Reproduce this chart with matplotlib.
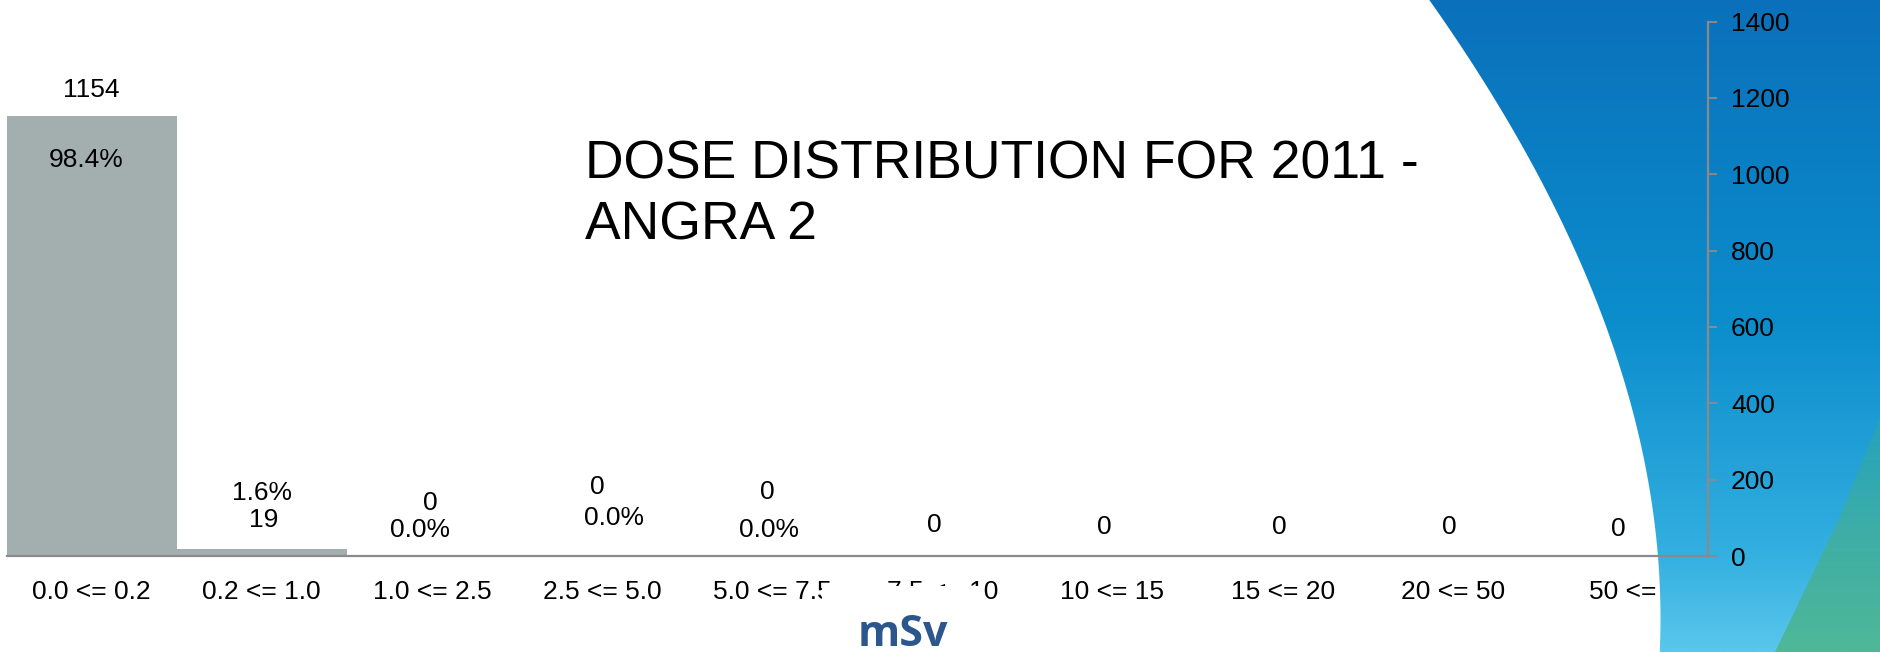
import numpy as np
import matplotlib
matplotlib.use('Agg')
import matplotlib.pyplot as plt
from matplotlib.patches import Polygon, Rectangle
from matplotlib.colors import LinearSegmentedColormap

plt.rcParams['font.family'] = ['Liberation Sans', 'DejaVu Sans']

# dose classes (mSv) and number of workers in each
categories = ['0.0 <= 0.2', '0.2 <= 1.0', '1.0 <= 2.5', '2.5 <= 5.0', '5.0 <= 7.5',
              '7.5 <= 10', '10 <= 15', '15 <= 20', '20 <= 50', '50 <=']
workers = [1154, 19, 0, 0, 0, 0, 0, 0, 0, 0]
n_pct = 5   # only the first five classes carry a percentage label
title = 'DOSE DISTRIBUTION FOR 2011 -\nANGRA 2'

# label placement, offsets from bar centre / bar top (data units)
count_dx = [0.0, 0.01, -0.01, -0.03, -0.03, -0.05, -0.05, -0.02, -0.02, -0.03]
count_dy = [67, 75, 139, 181, 168, 80, 76, 76, 76, 70]
pct_dx = [-0.03, 0.0, -0.07, 0.07, -0.02]
pct_dy = [-117, 146, 68, 100, 68]

W, H = 1880, 652
fig = plt.figure(figsize=(W / 100, H / 100), dpi=100)
fig.patch.set_facecolor('white')

# ---- slide background: blue arc on the right, green wedge bottom right
bg = fig.add_axes([0, 0, 1, 1], zorder=-1)
bg.set_xlim(0, W)
bg.set_ylim(H, 0)
bg.axis('off')

# smooth the white/blue edge
edge_x = [1432, 1463, 1490, 1523, 1553, 1577, 1597, 1613, 1633, 1649, 1657, 1661]
edge_y = [0, 50, 100, 150, 200, 250, 300, 340, 416, 499, 556, 652]
coef = np.polyfit(edge_y, edge_x, 3)
yy = np.linspace(0, H, 120)
xx = np.polyval(coef, yy)
blue_pts = list(zip(xx, yy)) + [(W, H), (W, 0)]
blue_poly = Polygon(blue_pts, closed=True, transform=bg.transData)
blue_cmap = LinearSegmentedColormap.from_list(
    'bl', [(0, '#0a70bb'), (0.5, '#0c8ecd'), (0.85, '#33afe0'), (1, '#5ac7ec')])
grad = np.linspace(0, 1, 256).reshape(-1, 1)
im = bg.imshow(grad, cmap=blue_cmap, aspect='auto', extent=[1400, W, H, 0],
               interpolation='bilinear')
im.set_clip_path(blue_poly)

green_pts = [(W, 417), (1840, 517), (1775, H), (W, H)]
green_poly = Polygon(green_pts, closed=True, transform=bg.transData)
green_cmap = LinearSegmentedColormap.from_list('gr', ['#24a2bd', '#3eaea6', '#4fb898'])
grad2 = np.linspace(0, 1, 128).reshape(-1, 1)
im2 = bg.imshow(grad2, cmap=green_cmap, aspect='auto', extent=[1760, W, H, 417],
                interpolation='bilinear')
im2.set_clip_path(green_poly)

# ---- main chart
ax = fig.add_axes([6.5 / W, (H - 556) / H, (1708 - 6.5) / W, 534.4 / H])
ax.set_facecolor('none')
x = np.arange(len(categories))
ax.bar(x, workers, width=1.0, color='#a3afaf', edgecolor='none')
ax.set_xlim(-0.5, len(categories) - 0.5)
ax.set_ylim(0, 1400)
ax.set_yticks(range(0, 1401, 200))
ax.yaxis.tick_right()
ax.set_xticks(x)
ax.set_xticklabels(categories)

for s in ['left', 'top']:
    ax.spines[s].set_visible(False)
for s in ['bottom', 'right']:
    ax.spines[s].set_color('#8a8a8a')
    ax.spines[s].set_linewidth(1.6)
ax.tick_params(axis='x', length=0, pad=17, labelsize=19)
ax.tick_params(axis='y', direction='out', length=6.5, width=1.4, color='#8a8a8a',
               pad=10, labelsize=19)

total = sum(workers)
for i, v in enumerate(workers):
    ax.text(i + count_dx[i], v + count_dy[i], str(v), ha='center', va='center',
            fontsize=19)
    if i < n_pct:
        ax.text(i + pct_dx[i], v + pct_dy[i], '%.1f%%' % (100.0 * v / total),
                ha='center', va='center', fontsize=19)

# baseline of a multi-line text is the one of its last line
fig.text(585 / W, 1 - 240 / H, title, ha='left', va='baseline', fontsize=38.5,
         linespacing=1.29)

# white box of the unit label hides part of the tick labels
fig.add_artist(Rectangle((822 / W, 0), (983 - 822) / W, (H - 586) / H,
                         transform=fig.transFigure, facecolor='white',
                         edgecolor='none', zorder=5))
fig.text(903 / W, 1 - 634 / H, 'mSv', ha='center', va='center', fontsize=31,
         color='#2b578c', family=['Open Sans', 'DejaVu Sans'], weight='bold',
         zorder=6)

fig.savefig('out.png', dpi=100)
